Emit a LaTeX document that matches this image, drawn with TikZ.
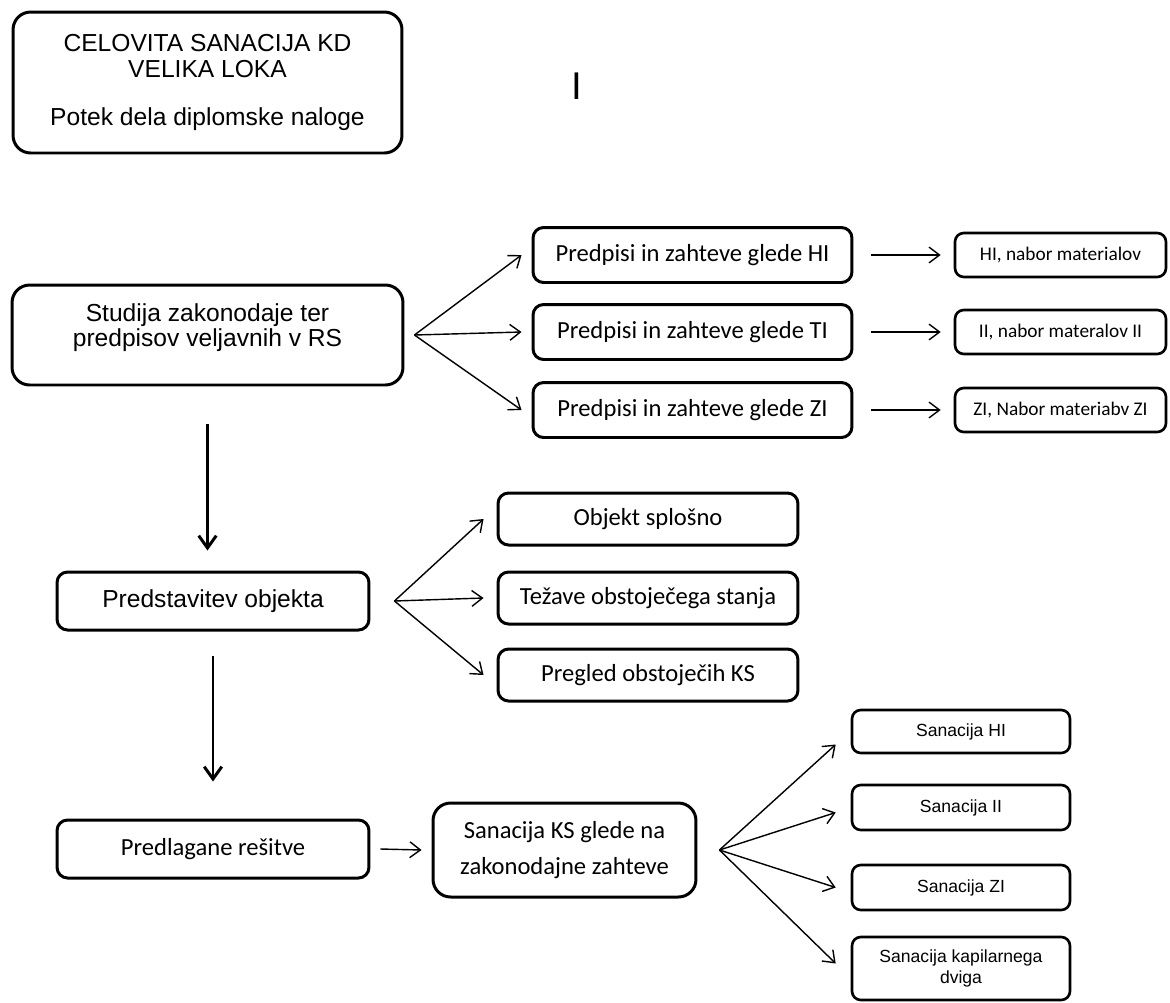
\documentclass[tikz,border=0pt]{standalone}
\usepackage{fontspec}
\setmainfont{Liberation Sans}
\newfontfamily\calfont{Carlito}
\usetikzlibrary{arrows.meta}

\begin{document}
\begin{tikzpicture}[x=0.02cm, y=-0.02cm,
    font=\fontsize{14}{14.5}\selectfont,
    box/.style={draw, line width=1.7pt, rounded corners=6pt, align=center, inner sep=0pt},
    bigbox/.style={box, rounded corners=10pt},
    calb/.style={font=\calfont\fontsize{14}{16}\selectfont},
    smallbox/.style={box, line width=1.5pt, rounded corners=5pt},
    fan/.style={line width=0.8pt, -{Straight Barb[length=6pt,width=9pt]}},
    down/.style={line width=1.7pt, -{Straight Barb[length=7pt,width=10pt]}}]

    \useasboundingbox (0,0) rectangle (1170,1002);

    % Title box
    \node[bigbox, minimum width=7.78cm, minimum height=2.82cm] (title) at (207.5,82.5)
        {CELOVITA SANACIJA KD\\VELIKA LOKA\\[13pt]Potek dela diplomske naloge};
    \node[font=\fontsize{22}{24}\selectfont] (cursor) at (577,86) {I};

    % Step 1: legislation
    \node[bigbox, minimum width=7.82cm, minimum height=2cm] (stud) at (207.5,335)
        {Studija zakonodaje ter\\predpisov veljavnih v RS\\[-3pt]\mbox{}};

    \foreach \n/\y/\t in {1/255/HI, 2/332/TI, 3/410/ZI}
        \node[box, calb, minimum width=6.38cm, minimum height=1.1cm] (pred\n) at (692.5,\y) {Predpisi in zahteve glede \t};

    \foreach \n/\y/\t in {1/255/{HI, nabor materialov}, 2/332/{II, nabor materalov II}, 3/410/{ZI, Nabor materiabv ZI}}
        \node[smallbox, font=\calfont\fontsize{11}{13}\selectfont, minimum width=4.22cm, minimum height=0.88cm] (nab\n) at (1060.5,\y) {\t};

    \coordinate (f1) at ([xshift=0.2cm]stud.east);
    \foreach \n in {1,2,3} {
        \draw[fan] (f1) -- ([xshift=-0.2cm]pred\n.west);
        \draw[fan] ([xshift=0.36cm]pred\n.east) -- ([xshift=-0.26cm]nab\n.west);
    }

    % Step 2: the building
    \node[box, minimum width=6.24cm, minimum height=1.16cm] (prst) at (213,601) {Predstavitev objekta};

    \foreach \n/\y/\t in {1/519/Objekt splošno, 2/598/Težave obstoječega stanja, 3/675/Pregled obstoječih KS}
        \node[box, calb, minimum width=6cm, minimum height=1.04cm] (obj\n) at (648,\y) {\t};

    \coordinate (f2) at ([xshift=0.48cm]prst.east);
    \foreach \n in {1,2,3} \draw[fan] (f2) -- ([xshift=-0.26cm]obj\n.west);

    \draw[down] ([yshift=-0.76cm]stud.south) -- ([yshift=0.4cm]stud.south |- prst.north);

    % Step 3: solutions
    \node[box, calb, minimum width=6.24cm, minimum height=1.16cm] (predl) at (213,849) {Predlagane rešitve};
    \node[bigbox, calb, minimum width=5.26cm, minimum height=1.88cm] (sks) at (564.5,850)
        {Sanacija KS glede na\\[4pt]zakonodajne zahteve};

    \draw[down] ([yshift=-0.5cm]prst.south) -- ([yshift=0.74cm]prst.south |- predl.north);
    \draw[fan] ([xshift=0.2cm]predl.east) -- ([xshift=-0.2cm]sks.west);

    \foreach \n/\y/\h/\t in {1/731.5/0.86/Sanacija HI, 2/807.5/0.9/Sanacija II, 3/887.5/0.9/Sanacija ZI, 4/968.5/1.26/{Sanacija kapilarnega\\dviga}}
        \node[smallbox, font=\fontsize{10}{12}\selectfont, minimum width=4.36cm, minimum height=\h cm] (san\n) at (961,\y) {\t};

    \coordinate (f3) at ([xshift=0.44cm]sks.east);
    \foreach \n/\dy in {1/-0.26, 2/-0.1, 3/0, 4/0.1}
        \draw[fan] (f3) -- ([xshift=-0.3cm, yshift=\dy cm]san\n.west);
\end{tikzpicture}
\end{document}
